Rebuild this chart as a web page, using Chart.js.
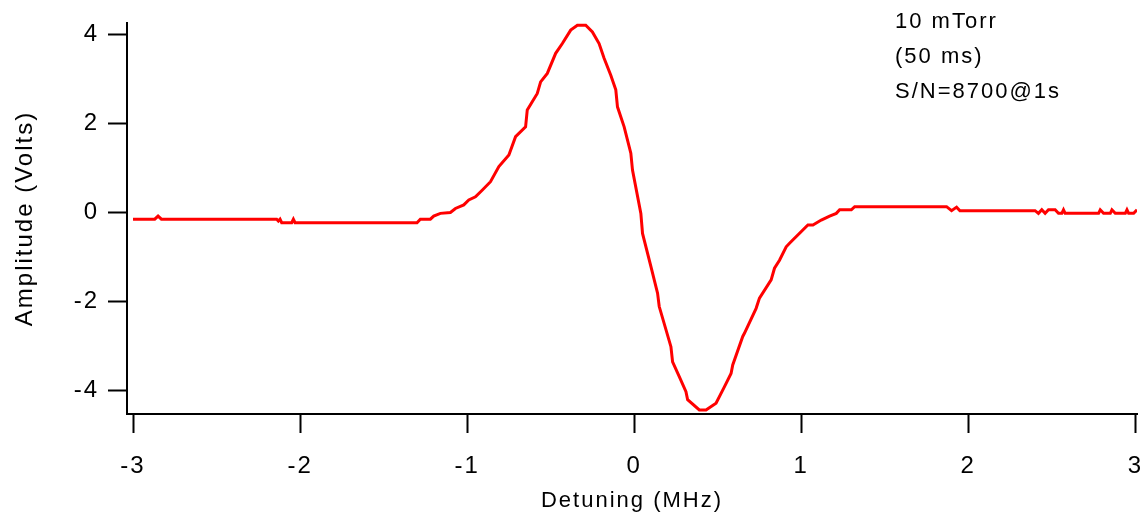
<!DOCTYPE html>
<html>
<head>
<meta charset="utf-8">
<script src="https://cdn.jsdelivr.net/npm/chart.js@4/dist/chart.umd.min.js"></script>
<style>
body { margin: 0; background: #fff; }
</style>
</head>
<body>
<canvas id="chart" width="1145" height="525"></canvas>
<script>
// detuning (MHz) and amplitude (V)
var detuning = [-3.00, -2.87, -2.85, -2.83, -2.14, -2.13, -2.12, -2.11, -2.05, -2.04, -2.03,
  -1.30, -1.28, -1.22, -1.20, -1.16, -1.10, -1.07, -1.02, -0.99, -0.95, -0.91, -0.86, -0.81,
  -0.75, -0.71, -0.65, -0.64, -0.58, -0.56, -0.52, -0.47, -0.43, -0.38, -0.34, -0.29, -0.25,
  -0.21, -0.18, -0.14, -0.11, -0.10, -0.06, -0.02, -0.01, 0.04, 0.05, 0.10, 0.14, 0.15, 0.22,
  0.23, 0.27, 0.31, 0.32, 0.39, 0.43, 0.49, 0.54, 0.58, 0.59, 0.65, 0.66, 0.73, 0.75, 0.82,
  0.84, 0.87, 0.91, 0.93, 1.04, 1.07, 1.12, 1.17, 1.21, 1.23, 1.30, 1.32, 1.87, 1.90, 1.93,
  1.95, 2.40, 2.42, 2.44, 2.46, 2.48, 2.52, 2.54, 2.56, 2.57, 2.58, 2.78, 2.79, 2.81, 2.85,
  2.86, 2.88, 2.94, 2.95, 2.96, 2.99, 3.01];
var amplitude = [-0.15, -0.15, -0.08, -0.15, -0.15, -0.19, -0.15, -0.23, -0.23, -0.15, -0.23,
  -0.23, -0.15, -0.15, -0.08, -0.02, 0.00, 0.09, 0.17, 0.28, 0.35, 0.50, 0.69, 1.03,
  1.29, 1.70, 1.92, 2.30, 2.67, 2.93, 3.12, 3.57, 3.79, 4.09, 4.20, 4.20, 4.05,
  3.79, 3.46, 3.08, 2.75, 2.37, 1.92, 1.33, 0.95, -0.02, -0.47, -1.21, -1.81, -2.11, -3.01,
  -3.35, -3.68, -4.02, -4.20, -4.43, -4.43, -4.28, -3.91, -3.61, -3.42, -2.78, -2.71, -2.15, -1.92, -1.51,
  -1.25, -1.07, -0.77, -0.69, -0.28, -0.28, -0.17, -0.08, -0.02, 0.06, 0.06, 0.13, 0.13, 0.04, 0.12,
  0.04, 0.04, -0.02, 0.06, -0.02, 0.06, 0.06, -0.02, -0.02, 0.06, -0.02, -0.02, 0.06, -0.02, -0.02,
  0.06, -0.02, -0.02, 0.06, -0.02, -0.02, 0.06];
var xTicks = [-3, -2, -1, 0, 1, 2, 3];
var yTicks = [-4, -2, 0, 2, 4];
var notes = ["10 mTorr", "(50 ms)", "S/N=8700@1s"];

var points = [];
for (var i = 0; i < detuning.length; i++) {
  points.push({ x: detuning[i], y: amplitude[i] });
}

Chart.defaults.font.family = "'Liberation Sans', Arial, sans-serif";
Chart.defaults.color = "#000";

// wide letter spacing like the original export
var spacing = {
  id: 'spacing',
  beforeDraw: function(chart) { chart.ctx.letterSpacing = '2px'; }
};

var notesText = {
  id: 'notesText',
  afterDraw: function(chart) {
    var ctx = chart.ctx;
    ctx.save();
    ctx.font = "22px 'Liberation Sans', Arial, sans-serif";
    ctx.fillStyle = "#000";
    ctx.textAlign = "left";
    ctx.textBaseline = "alphabetic";
    ctx.letterSpacing = '2px';
    for (var i = 0; i < notes.length; i++) {
      ctx.fillText(notes[i], chart.chartArea.right - 242, 28 + i * 35);
    }
    ctx.restore();
  }
};

new Chart(document.getElementById("chart"), {
  type: 'line',
  data: {
    datasets: [{
      data: points,
      borderColor: "#ff0000",
      borderWidth: 3,
      pointRadius: 0,
      tension: 0,
      fill: false
    }]
  },
  options: {
    responsive: false,
    animation: false,
    layout: { padding: { top: 23, right: 8, left: 0, bottom: 0 } },
    plugins: { legend: { display: false }, tooltip: { enabled: false } },
    scales: {
      x: {
        type: 'linear',
        min: -3.036,
        max: 3.01,
        afterBuildTicks: function(axis) { axis.ticks = xTicks.map(function(v) { return { value: v }; }); },
        afterFit: function(axis) { axis.height = 111; axis.paddingLeft = 0; axis.paddingRight = 0; },
        border: { display: true, color: "#000", width: 2 },
        grid: { drawOnChartArea: false, tickLength: 19, tickWidth: 2, tickColor: "#000" },
        ticks: { autoSkip: false, maxRotation: 0, padding: 19, font: { size: 24 } },
        title: { display: true, text: "Detuning (MHz)", font: { size: 22 }, padding: { bottom: 11 } }
      },
      y: {
        type: 'linear',
        min: -4.52,
        max: 4.25,
        afterBuildTicks: function(axis) { axis.ticks = yTicks.map(function(v) { return { value: v }; }); },
        afterFit: function(axis) { axis.width = 127; axis.paddingTop = 0; axis.paddingBottom = 0; },
        border: { display: true, color: "#000", width: 2 },
        grid: { drawOnChartArea: false, tickLength: 19, tickWidth: 2, tickColor: "#000" },
        ticks: { padding: 9, font: { size: 24 } },
        title: { display: true, text: "Amplitude (Volts)", font: { size: 24 }, padding: { top: 11 } }
      }
    }
  },
  plugins: [spacing, notesText]
});
</script>
</body>
</html>
